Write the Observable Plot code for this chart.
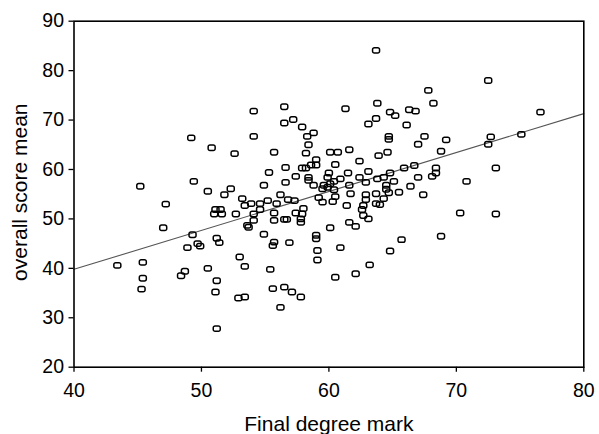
<!DOCTYPE html>
<html><head><meta charset="utf-8">
<script src="https://cdn.jsdelivr.net/npm/d3@7"></script>
<script src="https://cdn.jsdelivr.net/npm/@observablehq/plot@0.6"></script>
<style>html,body{margin:0;padding:0;background:#fff}</style>
</head><body><div id="chart"></div>
<script>
const finalMark = [43.4,45.2,45.4,45.4,45.3,47.0,47.2,49.2,49.4,49.3,48.9,49.7,49.9,48.7,48.4,50.5,51.2,51.1,51.2,50.8,
50.5,51.8,52.3,51.1,51.5,51.0,51.6,51.2,51.4,52.6,54.1,56.5,61.3,63.8,63.7,56.5,57.2,57.9,63.7,63.1,
58.8,58.3,58.4,54.1,55.7,58.2,60.1,60.7,61.6,62.4,63.9,60.5,59.0,58.6,59.0,57.9,58.2,56.6,55.3,60.0,
61.5,63.1,57.4,58.4,58.4,59.9,62.4,63.8,62.9,54.9,56.6,58.8,59.6,59.9,59.5,60.1,60.4,60.9,61.6,60.4,
61.7,56.2,53.2,53.4,53.9,54.6,55.2,55.9,56.8,57.3,59.2,59.5,60.3,60.5,61.4,62.9,62.9,62.7,62.6,63.7,
63.7,64.0,52.7,54.1,54.1,54.6,55.7,55.7,56.5,56.7,57.4,57.8,57.9,58.0,57.8,53.6,53.7,62.7,63.1,61.6,
62.1,60.1,54.9,55.7,55.6,56.9,59.0,59.0,59.1,59.1,60.9,53.0,53.4,55.4,60.5,62.1,63.2,52.9,53.4,55.6,
56.5,57.1,57.8,56.2,72.5,76.6,67.8,68.2,64.8,65.2,66.3,66.8,66.1,64.7,64.7,67.5,67.0,69.2,68.8,64.6,
72.7,72.5,75.1,65.9,66.7,68.4,73.1,64.8,68.4,68.1,64.3,65.1,67.0,70.8,66.4,64.5,64.5,64.7,65.5,67.4,
64.3,70.3,73.1,65.7,68.8,64.8];
const scoreMean = [40.6,56.6,41.2,38.0,35.8,48.2,53.0,66.4,57.6,46.8,44.2,45.0,44.5,39.4,38.5,40.0,37.5,35.2,27.8,64.4,
55.6,54.9,56.1,51.9,51.9,51.0,51.0,46.1,45.2,63.2,71.8,72.7,72.3,73.4,84.1,69.4,70.1,68.6,70.3,69.2,
67.4,66.7,65.0,66.7,63.5,63.3,63.5,63.5,64.0,61.7,62.8,61.0,62.0,60.9,60.9,60.3,60.3,60.4,59.4,59.3,
59.3,59.6,58.6,58.4,57.8,58.4,58.4,58.1,57.4,56.8,57.4,56.8,56.8,56.4,56.1,57.1,57.6,58.1,56.8,55.9,
55.1,54.9,54.1,52.7,53.1,53.1,53.7,53.1,53.9,53.7,54.3,53.4,53.5,54.5,52.7,54.9,53.9,52.7,51.9,55.1,
53.1,52.9,51.0,51.0,49.7,51.9,51.2,49.7,49.9,49.9,51.2,50.0,51.0,52.1,49.3,48.7,48.3,50.7,50.0,49.3,
48.5,48.2,46.9,45.3,44.6,45.2,46.7,46.0,43.6,41.7,44.2,42.3,40.4,39.8,38.2,38.9,40.7,34.0,34.2,35.9,
36.2,35.2,34.2,32.1,78.0,71.6,76.0,73.4,71.6,70.9,72.1,71.8,69.0,66.7,66.1,66.7,65.1,66.0,63.7,63.5,
66.6,65.1,67.1,60.3,60.8,60.3,60.3,59.3,59.3,58.6,58.4,57.6,58.4,57.6,56.6,56.8,56.0,55.3,55.4,54.9,
54.1,51.2,51.0,45.8,46.5,43.5];
const xTicks = [40, 50, 60, 70, 80];
const yTicks = [20, 30, 40, 50, 60, 70, 80, 90];
const fitX = [40, 80];
const fitY = [39.8, 71.3];
const xLabel = "Final degree mark";
const yLabel = "overall score mean";

const points = finalMark.map((x, i) => ({x, y: scoreMean[i]}));
const fit = fitX.map((x, i) => ({x, y: fitY[i]}));

const roundedBox = {
  draw(context) {
    const w = 3.5, h = 2.7, r = 1.8;
    context.moveTo(-w + r, -h);
    context.arcTo(w, -h, w, h, r);
    context.arcTo(w, h, -w, h, r);
    context.arcTo(-w, h, -w, -h, r);
    context.arcTo(-w, -h, w, -h, r);
    context.closePath();
  }
};

const chart = Plot.plot({
  width: 599,
  height: 434,
  marginLeft: 73.5,
  marginRight: 15.7,
  marginTop: 20.7,
  marginBottom: 67.3,
  style: {fontFamily: "'Liberation Sans', Arial, sans-serif", color: "black", background: "white"},
  x: {domain: [40, 80]},
  y: {domain: [20, 90]},
  marks: [
    Plot.line(fit, {x: "x", y: "y", stroke: "#555", strokeWidth: 1.1}),
    Plot.dot(points, {x: "x", y: "y", symbol: roundedBox, r: 3, stroke: "black", strokeWidth: 1.5, fill: "none"}),
    Plot.frame({stroke: "black", strokeWidth: 1.6}),
    Plot.axisX({ticks: xTicks, tickSize: 5, tickPadding: 11, fontSize: 19.5, label: null, strokeWidth: 1.3}),
    Plot.axisY({ticks: yTicks, tickSize: 5, tickPadding: 5, fontSize: 19.5, label: null, strokeWidth: 1.3}),
    Plot.text([xLabel], {frameAnchor: "bottom", dy: 57.5, textAnchor: "middle", lineAnchor: "middle", text: d => d, fontSize: 21, fill: "black"}),
    Plot.text([yLabel], {frameAnchor: "left", dx: -53.5, dy: -2, rotate: -90, textAnchor: "middle", lineAnchor: "middle", text: d => d, fontSize: 21, fill: "black"})
  ]
});
document.getElementById("chart").appendChild(chart);
</script>
</body></html>
